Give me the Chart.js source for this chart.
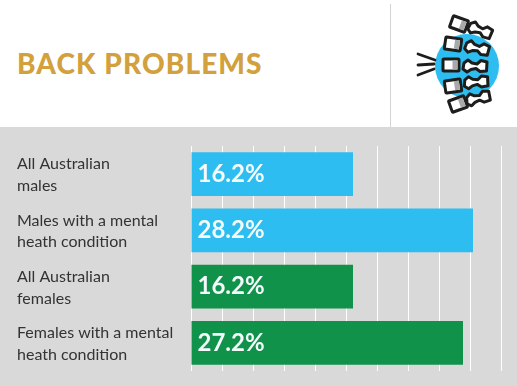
<!DOCTYPE html>
<html>
<head>
<meta charset="utf-8">
<script src="https://cdn.jsdelivr.net/npm/chart.js@4"></script>
<style>
  html, body { margin: 0; padding: 0; background: #fff; }
  #page { position: relative; width: 517px; height: 386px; overflow: hidden; }
  #title { position: absolute; left: 17px; top: 46px; font: 900 28px Lato, sans-serif; letter-spacing: 1.1px; color: #d2a03c; white-space: nowrap; }
  #rule { position: absolute; left: 390px; top: 4px; width: 1px; height: 123px; background: #d4d4d4; }
  #icon { position: absolute; left: 400px; top: 0; }
  #panel { position: absolute; left: 0; top: 127px; width: 517px; height: 259px; background: #d9d9d9; }
</style>
</head>
<body>
<div id="page">
  <div id="title">BACK PROBLEMS</div>
  <div id="rule"></div>
  <svg id="icon" width="117" height="127" viewBox="400 0 117 127">
    <defs>
      <g id="body">
        <rect x="-8" y="-6" width="16" height="12" rx="1" fill="#fff" stroke="#1d1d1b" stroke-width="3"/>
        <rect x="1.5" y="-4.5" width="5" height="9" fill="#a9a9a9"/>
      </g>
      <path id="spur" d="M-11 -3 L-7 -6 L-3 -3 L2 -2 L6 -5.5 L12 -4 L11.5 5 L5 5.5 L1 2.5 L-4 3.5 L-8 6 L-12 3 Z" fill="#fff" stroke="#1d1d1b" stroke-width="3" stroke-linejoin="round"/>
    </defs>
    <circle cx="467" cy="66" r="32" fill="#2dbdf0"/>
    <g stroke="#1d1d1b" stroke-width="2.8" stroke-linecap="round">
      <line x1="418" y1="54" x2="435" y2="60"/>
      <line x1="418" y1="65" x2="434" y2="64"/>
      <line x1="418" y1="75" x2="434" y2="69"/>
    </g>
    <use href="#spur" transform="translate(480 30) rotate(20)"/>
    <use href="#spur" transform="translate(477 48) rotate(12)"/>
    <use href="#spur" transform="translate(475 66)"/>
    <use href="#spur" transform="translate(476 82) rotate(-6)"/>
    <use href="#spur" transform="translate(478 98) rotate(-14)"/>
    <use href="#body" transform="translate(459 24) rotate(20)"/>
    <use href="#body" transform="translate(453 44) rotate(8)"/>
    <use href="#body" transform="translate(451 65)"/>
    <use href="#body" transform="translate(453 86) rotate(-8)"/>
    <use href="#body" transform="translate(458 104) rotate(-20)"/>
  </svg>
  <div id="panel"><canvas id="chart" width="517" height="259"></canvas></div>
</div>
<script>
const categories = [
  ["All Australian", "males"],
  ["Males with a mental", "heath condition"],
  ["All Australian", "females"],
  ["Females with a mental", "heath condition"],
];
const values = [16.2, 28.2, 16.2, 27.2];
const barColors = ["#2dbdf0", "#2dbdf0", "#10924a", "#10924a"];

// white percentage written inside the start of each bar
const barLabels = {
  id: "barLabels",
  afterDatasetsDraw(chart) {
    const ctx = chart.ctx;
    ctx.save();
    ctx.font = "700 24px Lato, sans-serif";
    ctx.fillStyle = "#f4fbfb";
    ctx.textBaseline = "middle";
    chart.getDatasetMeta(0).data.forEach((bar, i) => {
      ctx.fillText(values[i].toFixed(1) + "%", bar.base + 6, bar.y);
    });
    ctx.restore();
  },
};

new Chart(document.getElementById("chart"), {
  type: "bar",
  plugins: [barLabels],
  data: {
    labels: categories,
    datasets: [{ data: values, backgroundColor: barColors, barPercentage: 0.78, categoryPercentage: 1 }],
  },
  options: {
    indexAxis: "y",
    responsive: false,
    animation: false,
    layout: { padding: { left: 17, right: 16, top: 19, bottom: 15 } },
    plugins: { legend: { display: false }, tooltip: { enabled: false } },
    scales: {
      x: {
        min: 0,
        max: 31,
        ticks: { stepSize: 3.1, display: false },
        grid: { color: "#ffffff", lineWidth: 1, drawTicks: false },
        border: { display: false },
      },
      y: {
        afterFit(axis) {
          axis.width = 174;
          // tall two-line labels would otherwise squeeze the bars
          axis.paddingTop = 0;
          axis.paddingBottom = 0;
        },
        ticks: {
          crossAlign: "far",
          color: "#333333",
          padding: 0,
          labelOffset: 1,
          font: { family: "Lato, sans-serif", size: 16, lineHeight: 1.35 },
          autoSkip: false,
        },
        grid: { display: false },
        border: { display: false },
      },
    },
  },
});
</script>
</body>
</html>
